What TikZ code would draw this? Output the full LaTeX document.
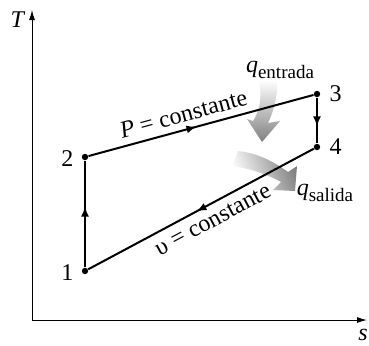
\documentclass[tikz,border=0pt]{standalone}
\usepackage{fontspec}
\setmainfont{Liberation Serif}
\usetikzlibrary{arrows.meta,decorations.markings}
\newcommand{\qsub}[1]{\textit{q}\raisebox{-0.55ex}{\fontsize{9.5}{10}\selectfont #1}}

\begin{document}
\begin{tikzpicture}[
  x=0.5pt, y=-0.5pt,
  font=\fontsize{12}{14}\selectfont,
  axis/.style={line width=0.5pt, -{Latex[length=5pt,width=3pt]}},
  cycleline/.style={line width=1pt},
  state/.style={circle, fill, inner sep=0pt, minimum size=3.2pt},
  midarrow/.style={postaction={decorate}, decoration={markings,
      mark=at position #1 with {\arrow{Latex[length=5pt,width=4pt]}}}},
  heatin/.style={top color=white, bottom color=black!50, draw=none},
  heatout/.style={left color=white, right color=black!50, shading angle=110, draw=none}
]
\useasboundingbox (0,0) rectangle (369,345);

% axes
\coordinate (O) at (32,320);
\coordinate (Ttop) at (32,10);
\coordinate (Send) at (367,320);
\draw[axis] (O) -- (Ttop);
\draw[axis] (O) -- (Send);
\node (Tlab) at (18,20) {\textit{T}};
\node (slab) at (363,335) {\textit{s}};

% states
\node[state] (p1) at (85,271) {};
\node[state] (p2) at (85,157) {};
\node[state] (p3) at (317,94) {};
\node[state] (p4) at (317,147) {};
\node[anchor=east] (l1) at ([xshift=-0.5pt,yshift=-1pt]p1.west) {1};
\node[anchor=east] (l2) at ([xshift=-0.5pt,yshift=-1pt]p2.west) {2};
\node[anchor=west] (l3) at ([xshift=1pt,yshift=0pt]p3.east) {3};
\node[anchor=west] (l4) at ([xshift=1pt]p4.east) {4};

% heat arrows
\shade[heatin] (258,80) .. controls (263,96) and (260,110) .. (253,121)
  -- (247,119) -- (262,142) -- (280,121) -- (268,123)
  .. controls (275,108) and (278,94) .. (277,80) -- cycle;
\shade[heatout] (238,151) .. controls (257,153) and (273,161) .. (288,172)
  -- (297,166) -- (295,191) -- (273,190) -- (281,182)
  .. controls (266,174) and (252,169) .. (232,166) -- cycle;
\node (qin) at (280,70) {\qsub{entrada}};
\node (qout) at (325,193) {\qsub{salida}};

% cycle
\draw[cycleline, midarrow=0.57] (p1) -- (p2);
\draw[cycleline, midarrow=0.48] (p2) -- node[pos=0.44, above=0pt, sloped] {\textit{P} = constante} (p3);
\draw[cycleline, midarrow=0.63] (p3) -- (p4);
\draw[cycleline, midarrow=0.52] (p4) -- node[pos=0.48, below=0.5pt, sloped] {υ = constante} (p1);
\end{tikzpicture}
\end{document}
